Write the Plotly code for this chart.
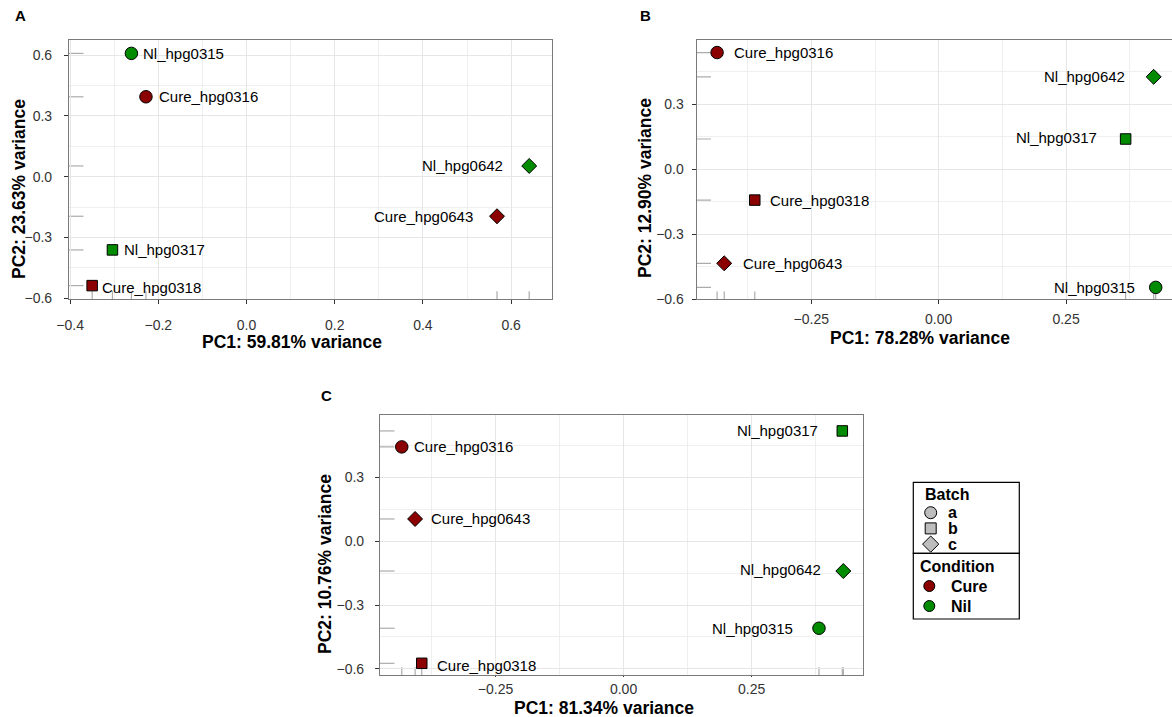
import plotly.graph_objects as go

W, H = 1172, 717

# ---------------- data ----------------
samples = ["Nl_hpg0315", "Cure_hpg0316", "Nl_hpg0317", "Cure_hpg0318", "Nl_hpg0642", "Cure_hpg0643"]
condition = ["Nil", "Cure", "Nil", "Cure", "Nil", "Cure"]
batch = ["a", "a", "b", "b", "c", "c"]

pc1_A = [-0.261, -0.228, -0.304, -0.350, 0.641, 0.568]
pc2_A = [0.608, 0.394, -0.361, -0.537, 0.053, -0.195]
pc1_B = [0.426, -0.435, 0.367, -0.361, 0.422, -0.421]
pc2_B = [-0.545, 0.539, 0.140, -0.142, 0.427, -0.434]
pc1_C = [0.3815, -0.433, 0.427, -0.394, 0.429, -0.407]
pc2_C = [-0.409, 0.444, 0.519, -0.574, -0.140, 0.105]

var_A = ["59.81%", "23.63%"]
var_B = ["78.28%", "12.90%"]
var_C = ["81.34%", "10.76%"]

batch_levels = ["a", "b", "c"]
condition_levels = ["Cure", "Nil"]

# ---------------- styles ----------------
cond_color = {"Cure": "#8B0000", "Nil": "#008B00"}
batch_symbol = {"a": "circle", "b": "square", "c": "diamond"}
batch_size = {"a": 12.5, "b": 10.5, "c": 11.5}
FONT = "Liberation Sans, Arial, sans-serif"

def px(x):
    return x / W

def py(y):
    return 1 - y / H

# label placement (pixel shift from marker), per panel, per sample index
shift_A = [(10, 0), (11, 0), (10, 0), (8, 2), (-24, 0), (-22, 0)]
shift_B = [(-19, 0), (15, 0), (-27, -2), (13, 0), (-27, 0), (17, 0)]
shift_C = [(-24, 0), (10, 0), (-22, 0), (13, 2), (-20, -2), (14, 0)]

panels = [
    dict(x=pc1_A, y=pc2_A, var=var_A, ax="", letter="A", shifts=shift_A,
         xdom=[px(69), px(551.7)], ydom=[py(299), py(40)],
         xr=[-0.4025, 0.692], yr=[-0.603, 0.674],
         xd=0.2, xminor=0.1, xfmt=".1f", yd=0.3, yminor=0.15,
         xso=9, yso=9, xtl=4,
         letter_xy=(20, 16), xt_xy=(292, 342), yt_xy=(19, 189), mirror_y=True),
    dict(x=pc1_B, y=pc2_B, var=var_B, ax="2", letter="B", shifts=shift_B,
         xdom=[px(696.7), 1.0], ydom=[py(299.3), py(40)],
         xr=[-0.475, 0.458], yr=[-0.600, 0.597],
         xd=0.25, xminor=0.125, xfmt=".2f", yd=0.3, yminor=0.15,
         xso=3, yso=5, xtl=4,
         letter_xy=(645.5, 16), xt_xy=(920, 338), yt_xy=(645, 188), mirror_y=False),
    dict(x=pc1_C, y=pc2_C, var=var_C, ax="3", letter="C", shifts=shift_C,
         xdom=[px(380), px(863.3)], ydom=[py(675), py(415)],
         xr=[-0.4755, 0.468], yr=[-0.629, 0.594],
         xd=0.25, xminor=0.125, xfmt=".2f", yd=0.3, yminor=0.15,
         xso=0, yso=8, xtl=1,
         letter_xy=(326.5, 395), xt_xy=(604, 707.5), yt_xy=(325, 564), mirror_y=True),
]

fig = go.Figure()
shapes = []
annotations = []

for p in panels:
    xa = "x" + p["ax"]
    ya = "y" + p["ax"]
    # rugs
    for xi in p["x"]:
        shapes.append(dict(type="line", xref=xa, yref=ya + " domain", x0=xi, x1=xi, y0=0, y1=0.03,
                           line=dict(color="#ABABAB", width=1.2), layer="below"))
    for yi in p["y"]:
        shapes.append(dict(type="line", xref=xa + " domain", yref=ya, x0=0, x1=0.03, y0=yi, y1=yi,
                           line=dict(color="#ABABAB", width=1.2), layer="below"))
    # points
    fig.add_trace(go.Scatter(
        x=p["x"], y=p["y"], mode="markers", xaxis=xa, yaxis=ya, showlegend=False,
        marker=dict(color=[cond_color[c] for c in condition],
                    symbol=[batch_symbol[b] for b in batch],
                    size=[batch_size[b] for b in batch],
                    opacity=1,
                    line=dict(color="black", width=1)),
        cliponaxis=False, hoverinfo="text", text=samples))
    # labels
    for i, s in enumerate(samples):
        dx, dy = p["shifts"][i]
        annotations.append(dict(x=p["x"][i], y=p["y"][i], xref=xa, yref=ya, text=s,
                                showarrow=False, xanchor="left" if dx > 0 else "right",
                                yanchor="middle", xshift=dx, yshift=-dy,
                                font=dict(family=FONT, size=15, color="black")))
    # panel letter
    lx, ly = p["letter_xy"]
    annotations.append(dict(x=px(lx), y=py(ly), xref="paper", yref="paper", text="<b>%s</b>" % p["letter"],
                            showarrow=False, xanchor="center", yanchor="middle",
                            font=dict(family=FONT, size=15, color="black")))
    # axis titles
    tx, ty = p["xt_xy"]
    annotations.append(dict(x=px(tx), y=py(ty), xref="paper", yref="paper",
                            text="<b>PC1: %s variance</b>" % p["var"][0],
                            showarrow=False, xanchor="center", yanchor="middle",
                            font=dict(family=FONT, size=17.5, color="black")))
    tx, ty = p["yt_xy"]
    annotations.append(dict(x=px(tx), y=py(ty), xref="paper", yref="paper",
                            text="<b>PC2: %s variance</b>" % p["var"][1], textangle=-90,
                            showarrow=False, xanchor="center", yanchor="middle",
                            font=dict(family=FONT, size=17.5, color="black")))

    common = dict(showgrid=True, gridcolor="#E6E6E6", gridwidth=1, zeroline=False,
                  showline=True, linecolor="#7A7A7A", linewidth=1.2, automargin=False,
                  ticks="outside", tickcolor="#333333", tickwidth=1,
                  tickfont=dict(family=FONT, size=14, color="#333333"))
    fig.layout["xaxis" + p["ax"]] = dict(
        common, domain=p["xdom"], range=p["xr"], anchor=ya, mirror=True, ticklen=p["xtl"],
        tickmode="linear", tick0=0, dtick=p["xd"], tickformat=p["xfmt"],
        ticklabelstandoff=p["xso"],
        minor=dict(showgrid=True, gridcolor="#EFEFEF", gridwidth=0.8, dtick=p["xminor"], tick0=0, ticks=""))
    fig.layout["yaxis" + p["ax"]] = dict(
        common, domain=p["ydom"], range=p["yr"], anchor=xa, mirror=p["mirror_y"], ticklen=4,
        tickmode="linear", tick0=0, dtick=p["yd"], tickformat=".1f",
        ticklabelstandoff=p["yso"],
        minor=dict(showgrid=True, gridcolor="#EFEFEF", gridwidth=0.8, dtick=p["yminor"], tick0=0, ticks=""))

# ---------------- legend (drawn manually) ----------------
LX0, LX1 = 913.3, 1019.3
LY0, LYM, LY1 = 482.3, 553.3, 619.0
shapes.append(dict(type="rect", xref="paper", yref="paper", x0=px(LX0), x1=px(LX1), y0=py(LYM), y1=py(LY0),
                   line=dict(color="black", width=1.2)))
shapes.append(dict(type="rect", xref="paper", yref="paper", x0=px(LX0), x1=px(LX1), y0=py(LY1), y1=py(LYM),
                   line=dict(color="black", width=1.2)))

fig.layout["xaxis4"] = dict(domain=[px(LX0), px(LX1)], range=[LX0, LX1], visible=False,
                            anchor="y4", automargin=False)
fig.layout["yaxis4"] = dict(domain=[py(LY1), py(LY0)], range=[LY1, LY0], visible=False,
                            anchor="x4", automargin=False)

annotations.append(dict(x=px(923), y=py(494), xref="paper", yref="paper", text="<b>Batch</b>",
                        showarrow=False, xanchor="left", yanchor="middle",
                        font=dict(family=FONT, size=16, color="black")))
annotations.append(dict(x=px(918), y=py(566), xref="paper", yref="paper", text="<b>Condition</b>",
                        showarrow=False, xanchor="left", yanchor="middle",
                        font=dict(family=FONT, size=16, color="black")))

b_y = [512.7 + 15.7 * i for i in range(len(batch_levels))]
fig.add_trace(go.Scatter(
    x=[930.7] * len(batch_levels), y=b_y, mode="markers", xaxis="x4", yaxis="y4", showlegend=False,
    marker=dict(color="#BDBDBD", symbol=[batch_symbol[b] for b in batch_levels],
                size=[12, 11, 12.5], opacity=1, line=dict(color="black", width=1)),
    cliponaxis=False, hoverinfo="skip"))
for b, yy in zip(batch_levels, b_y):
    annotations.append(dict(x=px(946), y=py(yy), xref="paper", yref="paper", text="<b>%s</b>" % b,
                            showarrow=False, xanchor="left", yanchor="middle",
                            font=dict(family=FONT, size=16, color="black")))

c_y = [586 + 20 * i for i in range(len(condition_levels))]
fig.add_trace(go.Scatter(
    x=[929.3] * len(condition_levels), y=c_y, mode="markers", xaxis="x4", yaxis="y4", showlegend=False,
    marker=dict(color=[cond_color[c] for c in condition_levels], symbol="circle", size=11,
                opacity=1, line=dict(color="black", width=1)),
    cliponaxis=False, hoverinfo="skip"))
for c, yy in zip(condition_levels, c_y):
    annotations.append(dict(x=px(948.5), y=py(yy), xref="paper", yref="paper", text="<b>%s</b>" % c,
                            showarrow=False, xanchor="left", yanchor="middle",
                            font=dict(family=FONT, size=16, color="black")))

fig.update_layout(
    width=W, height=H, margin=dict(l=0, r=0, t=0, b=0, autoexpand=False),
    paper_bgcolor="white", plot_bgcolor="white",
    shapes=shapes, annotations=annotations, showlegend=False,
    font=dict(family=FONT),
)

fig.write_html("out.html")
